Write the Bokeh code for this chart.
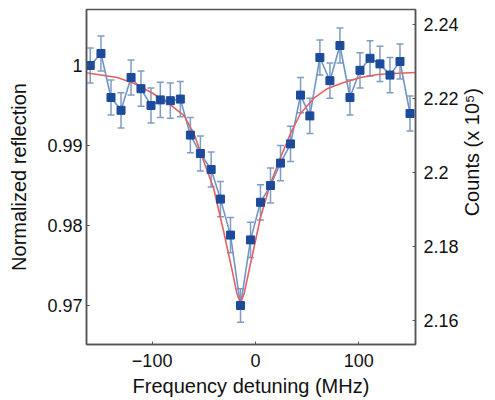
import math
from bokeh.plotting import figure
from bokeh.layouts import row
from bokeh.models import Range1d, LinearAxis, Whisker, ColumnDataSource, FixedTicker, TeeHead
from bokeh.core.properties import value
from bokeh.embed import file_html
from bokeh.resources import INLINE

# measured data (detuning in MHz, normalized reflection)
detuning = [-159.9, -149.5, -139.8, -130.1, -120.4, -110.8, -101.1, -92.1, -82.4, -72.7,
            -63.0, -53.3, -42.9, -33.9, -24.2, -14.5, -4.8, 4.8, 14.5, 24.2,
            33.9, 43.6, 52.6, 62.3, 72.0, 81.7, 91.4, 101.1, 110.8, 120.4,
            130.1, 139.8, 149.5]
reflection = [1.0000, 1.0015, 0.9960, 0.9944, 0.9985, 0.9971, 0.9950, 0.9957, 0.9956, 0.9958,
              0.9913, 0.9890, 0.9870, 0.9833, 0.9788, 0.9700, 0.9782, 0.9829, 0.9850, 0.9878,
              0.9902, 0.9963, 0.9937, 1.0010, 0.9981, 1.0025, 0.9960, 0.9994, 1.0009, 1.0002,
              0.9988, 1.0005, 0.9940]
error = [0.0022, 0.0022, 0.0022, 0.0022, 0.0022, 0.0022, 0.0022, 0.0022, 0.0022, 0.0022,
         0.0022, 0.0022, 0.0022, 0.0022, 0.0022, 0.0021, 0.0022, 0.0022, 0.0022, 0.0022,
         0.0022, 0.0022, 0.0022, 0.0022, 0.0022, 0.0022, 0.0022, 0.0022, 0.0022, 0.0022,
         0.0022, 0.0022, 0.0022]

# fitted curve
fit_detuning = [-164, -133.7, -117.2, -100.8, -85.3, -68.8, -59.0, -50.4, -40.7, -31.0,
                -22.3, -18.0, -14.5, -11.0, -4.8, 4.8, 14.5, 24.2, 33.9, 43.6,
                56.2, 69.8, 85.3, 101.7, 118.2, 133.7, 155]
fit_reflection = [0.99910, 0.99850, 0.99775, 0.99663, 0.99538, 0.99370, 0.99130, 0.98813, 0.98475, 0.97938,
                  0.97420, 0.97150, 0.97030, 0.97150, 0.97525, 0.98100, 0.98525, 0.98850, 0.99150, 0.99400,
                  0.99588, 0.99713, 0.99788, 0.99850, 0.99888, 0.99900, 0.99913]

x_ticks = [-100, 0, 100]
left_ticks = [0.97, 0.98, 0.99, 1.0]
right_ticks = [2.16, 2.18, 2.2, 2.22, 2.24]
right_label = "Counts (x 10\u2075)"

FONT = "Liberation Sans"
AXIS_COLOR = "#555555"
TICK_SIZE = "18px"
LABEL_SIZE = "20px"
TOTAL_H = 398

p = figure(frame_width=329, frame_height=335, output_backend="svg", toolbar_location=None,
           x_range=Range1d(-163.5, 154.8), y_range=Range1d(0.965125, 1.007),
           min_border_left=86, min_border_right=40, min_border_top=9, min_border_bottom=54)
p.extra_y_ranges = {"counts": Range1d(2.1534, 2.24406)}
p.grid.visible = False
p.outline_line_color = AXIS_COLOR
p.outline_line_width = 1.5
p.background_fill_color = "white"
p.border_fill_color = "white"

src = ColumnDataSource(dict(x=detuning, y=reflection,
                            lo=[r - e for r, e in zip(reflection, error)],
                            hi=[r + e for r, e in zip(reflection, error)]))

wh = Whisker(source=src, base="x", lower="lo", upper="hi",
             line_color="#7f9cc2", line_width=1.5,
             upper_head=TeeHead(size=7, line_color="#7f9cc2", line_width=1.5),
             lower_head=TeeHead(size=7, line_color="#7f9cc2", line_width=1.5))
p.add_layout(wh)
p.line("x", "y", source=src, line_color="#7195c9", line_width=1.6)
p.line(fit_detuning, fit_reflection, line_color="#e2625f", line_width=1.6)
p.scatter("x", "y", source=src, marker="square", size=8, fill_color="#1d4b9b",
          line_color="#1d4b9b")


def style(ax):
    ax.major_label_text_font = FONT
    ax.axis_label_text_font = FONT
    ax.major_label_text_font_size = TICK_SIZE
    ax.axis_label_text_font_size = LABEL_SIZE
    ax.axis_label_text_font_style = "normal"
    ax.major_label_text_color = "#111111"
    ax.axis_label_text_color = "#111111"
    ax.axis_line_color = AXIS_COLOR
    ax.axis_line_width = 1.5
    ax.major_tick_line_color = AXIS_COLOR
    ax.major_tick_in = 3
    ax.major_tick_out = 0
    ax.minor_tick_line_color = None


style(p.xaxis[0])
style(p.yaxis[0])

p.xaxis[0].ticker = FixedTicker(ticks=x_ticks)
p.xaxis[0].axis_label = "Frequency detuning (MHz)"
p.xaxis[0].major_label_standoff = 9
p.xaxis[0].axis_label_standoff = 5
p.yaxis[0].ticker = FixedTicker(ticks=left_ticks)
p.yaxis[0].major_label_overrides = {1.0: "1"}
p.yaxis[0].axis_label = "Normalized reflection"
p.yaxis[0].major_label_standoff = 4
p.yaxis[0].axis_label_standoff = 14

ra = LinearAxis(y_range_name="counts", ticker=FixedTicker(ticks=right_ticks))
style(ra)
ra.major_label_overrides = {2.2: "2.2"}
ra.major_label_standoff = 8
p.add_layout(ra, "right")

# narrow strip to the right holding the right-hand axis title (reads bottom to top)
q = figure(width=26, height=TOTAL_H, output_backend="svg", toolbar_location=None,
           x_axis_location=None, y_axis_location=None,
           x_range=Range1d(0, 26), y_range=Range1d(0, TOTAL_H),
           min_border=0, outline_line_color=None)
q.grid.grid_line_color = None
q.xgrid.visible = False
q.ygrid.visible = False
q.background_fill_color = "white"
q.border_fill_color = "white"
q.text(x=[10], y=[TOTAL_H - 170], text=[right_label], angle=math.pi / 2,
       text_align="center", text_baseline="middle",
       text_font=value(FONT), text_font_size=LABEL_SIZE, text_color="#111111")

layout = row(p, q, spacing=0)
open("out.html", "w").write(file_html(layout, INLINE))
